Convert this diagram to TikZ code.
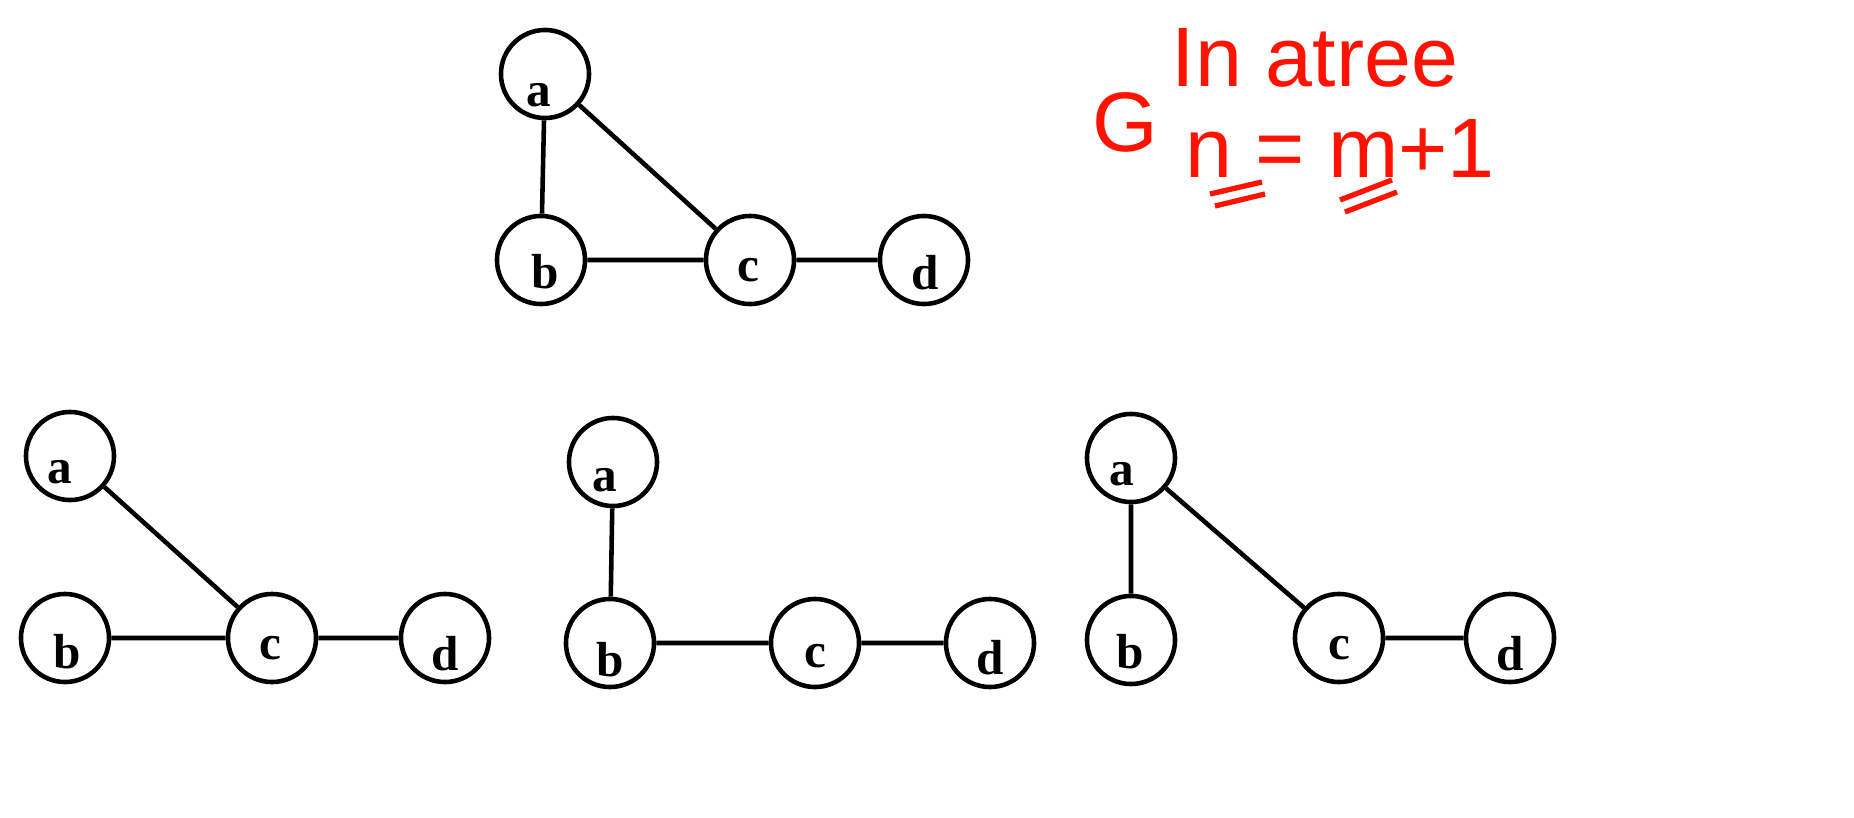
\documentclass[tikz,border=0pt]{standalone}
\usepackage{fontspec}
\setmainfont{Liberation Serif}
\newfontfamily\hand{Liberation Sans}
\begin{document}
\begin{tikzpicture}[x=0.01cm,y=-0.01cm,
  vtx/.style={circle,draw,line width=1.3pt,minimum size=0.88cm,inner sep=0pt},
  lbl/.style={font=\fontsize{14}{14}\selectfont\bfseries,inner sep=0pt},
  edge/.style={line width=1.3pt},
  red/.style={color=red!85!orange,font=\hand\fontsize{24}{24}\selectfont}]
\useasboundingbox (0,0) rectangle (1854,818);
% top graph
\node[vtx] (ta) at (545,74) {}; \node[lbl] (tal) at (539,95) {a};
\node[vtx] (tb) at (541,260) {}; \node[lbl] (tbl) at (545,272) {b};
\node[vtx] (tc) at (750,260) {}; \node[lbl] (tcl) at (748,270) {c};
\node[vtx] (td) at (924,260) {}; \node[lbl] (tdl) at (925,273) {d};
\draw[edge] (ta)--(tb) (ta)--(tc) (tb)--(tc) (tc)--(td);
% bottom left
\node[vtx] (la) at (70,456) {}; \node[lbl] (lal) at (60,472) {a};
\node[vtx] (lb) at (65,638) {}; \node[lbl] (lbl) at (67,652) {b};
\node[vtx] (lc) at (272,638) {}; \node[lbl] (lcl) at (270,648) {c};
\node[vtx] (ld) at (445,638) {}; \node[lbl] (ldl) at (445,654) {d};
\draw[edge] (la)--(lc) (lb)--(lc) (lc)--(ld);
% bottom middle
\node[vtx] (ma) at (613,462) {}; \node[lbl] (mal) at (605,480) {a};
\node[vtx] (mb) at (610,643) {}; \node[lbl] (mbl) at (610,660) {b};
\node[vtx] (mc) at (815,643) {}; \node[lbl] (mcl) at (815,656) {c};
\node[vtx] (md) at (990,643) {}; \node[lbl] (mdl) at (990,658) {d};
\draw[edge] (ma)--(mb) (mb)--(mc) (mc)--(md);
% bottom right
\node[vtx] (ra) at (1131,458) {}; \node[lbl] (ral) at (1122,474) {a};
\node[vtx] (rb) at (1131,640) {}; \node[lbl] (rbl) at (1130,652) {b};
\node[vtx] (rc) at (1339,638) {}; \node[lbl] (rcl) at (1339,648) {c};
\node[vtx] (rd) at (1510,638) {}; \node[lbl] (rdl) at (1510,654) {d};
\draw[edge] (ra)--(rb) (ra)--(rc) (rc)--(rd);
% red notes
\node[red] (g) at (1125,122) {G};
\node[red] (t1) at (1315,58) {In atree};
\node[red] (t2) at (1340,148) {n = m+1};
\draw[red,line width=1.5pt] (1210,194)--(1262,182) (1215,206)--(1265,194)
  (1340,200)--(1392,180) (1345,212)--(1397,192);
\end{tikzpicture}
\end{document}
